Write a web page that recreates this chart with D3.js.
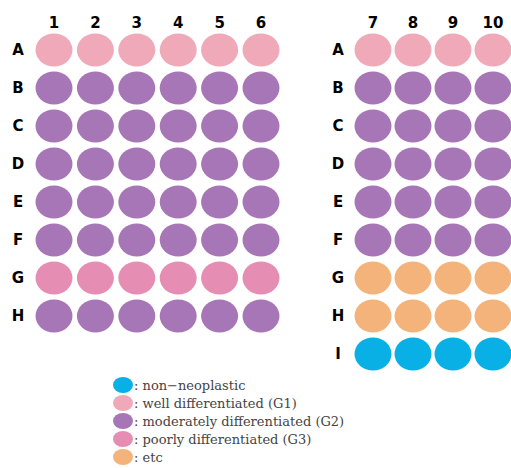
<!DOCTYPE html>
<html><head><meta charset="utf-8">
<script src="https://cdn.jsdelivr.net/npm/d3@7"></script>
<style>body{margin:0;background:#fff}svg{display:block}</style>
</head><body>
<script>
// Data
const leftCols = ["1","2","3","4","5","6"];
const rightCols = ["7","8","9","10"];
const allRows = ["A","B","C","D","E","F","G","H","I"];
const leftRows = ["A","B","C","D","E","F","G","H"];
const rightRows = ["A","B","C","D","E","F","G","H","I"];
const leftGrades = ["G1","G2","G2","G2","G2","G2","G3","G2"];
const rightGrades = ["G1","G2","G2","G2","G2","G2","etc","etc","NN"];
const legendKeys = ["NN","G1","G2","G3","etc"];
const legendLabels = [": non\u2212neoplastic", ": well differentiated (G1)", ": moderately differentiated (G2)", ": poorly differentiated (G3)", ": etc"];
const colorMap = {NN:"#08b0e6", G1:"#efa9b9", G2:"#a776b6", G3:"#e58db3", etc:"#f5b37c"};

const W = 511, H = 468;
const svg = d3.select("body").append("svg").attr("width", W).attr("height", H);

const y = d3.scalePoint().domain(allRows).range([50, 354]);
const xL = d3.scalePoint().domain(leftCols).range([54, 261]);
const xR = d3.scalePoint().domain(rightCols).range([373, 493]);

const rx = 18.5, ry = 16.5;
const labelFont = "DejaVu Sans, Arial, sans-serif";

function plate(g, cols, rows, grades, x, rowLabelX) {
  const cells = [];
  rows.forEach((r, i) => cols.forEach(c => cells.push({r, c, g: grades[i]})));
  g.selectAll("ellipse.well").data(cells).join("ellipse")
    .attr("class","well")
    .attr("cx", d => x(d.c)).attr("cy", d => y(d.r))
    .attr("rx", rx).attr("ry", ry)
    .attr("fill", d => colorMap[d.g]);
  g.selectAll("text.col").data(cols).join("text")
    .attr("class","col")
    .attr("x", d => x(d)).attr("y", 23)
    .attr("text-anchor","middle").attr("dominant-baseline","central")
    .attr("font-family", labelFont).attr("font-weight","bold").attr("font-size", 15)
    .attr("fill","#000").text(d => d);
  g.selectAll("text.row").data(rows).join("text")
    .attr("class","row")
    .attr("x", rowLabelX).attr("y", d => y(d))
    .attr("text-anchor","middle").attr("dominant-baseline","central")
    .attr("font-family", labelFont).attr("font-weight","bold").attr("font-size", 15)
    .attr("fill","#000").text(d => d);
}

plate(svg.append("g"), leftCols, leftRows, leftGrades, xL, 18);
plate(svg.append("g"), rightCols, rightRows, rightGrades, xR, 338);

// Legend
const ly = d3.scalePoint().domain(legendKeys).range([385, 457]);
const lg = svg.append("g");
lg.selectAll("ellipse").data(legendKeys).join("ellipse")
  .attr("cx", 123).attr("cy", d => ly(d)).attr("rx", 10).attr("ry", 8)
  .attr("fill", d => colorMap[d]);
lg.selectAll("text").data(legendKeys).join("text")
  .attr("x", 134).attr("y", d => ly(d))
  .attr("dominant-baseline","central")
  .attr("font-family","DejaVu Serif, Times New Roman, serif").attr("font-size", 13)
  .attr("fill","#444")
  .text((d, i) => legendLabels[i]);
</script>
</body></html>
